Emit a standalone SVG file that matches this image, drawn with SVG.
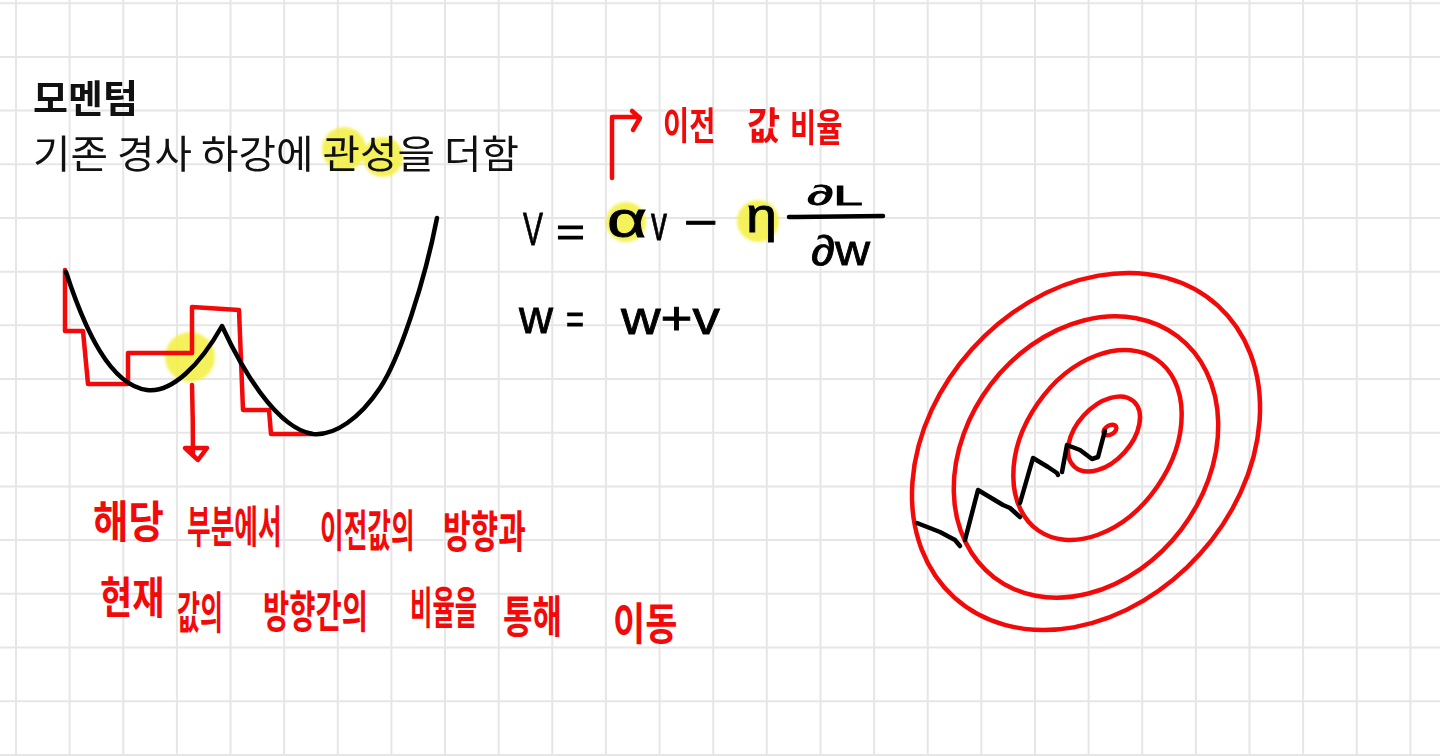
<svg xmlns="http://www.w3.org/2000/svg" width="1440" height="756" viewBox="0 0 1440 756">
<defs>
<style>
.grid{stroke:#e6e6e6;stroke-width:2;fill:none}
.hl{fill:#f3ee3c;opacity:0.85}
.ink{fill:none;stroke:#000;stroke-width:4.5;stroke-linecap:round;stroke-linejoin:round}
.red{fill:none;stroke:#f20a0a;stroke-width:4.5;stroke-linecap:round;stroke-linejoin:round}
.title{font-family:"Noto Sans CJK KR","Noto Sans",sans-serif;font-weight:700;font-size:38px;fill:#111}
.sub{font-family:"Noto Sans CJK KR","Noto Sans",sans-serif;font-weight:400;font-size:39px;fill:#111}
.hand{font-family:"Noto Sans CJK KR","Noto Sans",sans-serif;font-weight:700;font-size:44px;fill:#f20a0a}
.hand2{font-family:"Noto Sans CJK KR","Noto Sans",sans-serif;font-weight:700;font-size:38px;fill:#f20a0a}
.math{font-family:"Liberation Sans","DejaVu Sans",sans-serif;fill:#000;stroke:#000;stroke-width:0.8}
</style>
<filter id="soft" x="-20%" y="-20%" width="140%" height="140%"><feGaussianBlur stdDeviation="1.5"/></filter>
</defs>
<rect width="1440" height="756" fill="#fff"/>
<g id="grid">
<path class="grid" d="M16,0V756M69.6,0V756M123.3,0V756M176.9,0V756M230.5,0V756M284.2,0V756M337.8,0V756M391.4,0V756M445,0V756M498.7,0V756M552.3,0V756M605.9,0V756M659.6,0V756M713.2,0V756M766.8,0V756M820.5,0V756M874.1,0V756M927.7,0V756M981.3,0V756M1035,0V756M1088.6,0V756M1142.2,0V756M1195.9,0V756M1249.5,0V756M1303.1,0V756M1356.8,0V756M1410.4,0V756M0,3.2H1440M0,56.9H1440M0,110.6H1440M0,164.3H1440M0,218H1440M0,271.7H1440M0,325.3H1440M0,379H1440M0,432.7H1440M0,486.4H1440M0,540.1H1440M0,593.8H1440M0,647.5H1440M0,701.2H1440M0,754.9H1440"/>
</g>
<g id="highlights" filter="url(#soft)">
<circle class="hl" cx="344" cy="149" r="22"/>
<circle class="hl" cx="383" cy="157" r="20"/>
<circle class="hl" cx="626" cy="222" r="20"/>
<circle class="hl" cx="758" cy="221" r="21"/>
<circle class="hl" cx="190" cy="357" r="25"/>
</g>
<g id="heading">
<text class="title" x="33" y="112">모멘텀</text>
<text class="sub" x="33" y="168" textLength="486" lengthAdjust="spacingAndGlyphs">기존 경사 하강에 관성을 더함</text>
</g>
<g id="formula">
<text class="math" x="523" y="245" font-size="46" textLength="20" lengthAdjust="spacingAndGlyphs">V</text>
<text class="math" x="556" y="246" font-size="40" textLength="29" lengthAdjust="spacingAndGlyphs">=</text>
<text class="math" x="607" y="237" font-size="50" textLength="40" lengthAdjust="spacingAndGlyphs">α</text>
<text class="math" x="651" y="240" font-size="48" textLength="16" lengthAdjust="spacingAndGlyphs">v</text>
<text class="math" x="684" y="238" font-size="46" textLength="34" lengthAdjust="spacingAndGlyphs">−</text>
<text class="math" x="746" y="232" font-size="48" textLength="31" lengthAdjust="spacingAndGlyphs">η</text>
<path class="ink" d="M789,217L883,216"/>
<text class="math" x="807" y="205" font-size="28" textLength="56" lengthAdjust="spacingAndGlyphs">∂L</text>
<text class="math" x="811" y="265" font-size="42" textLength="59" lengthAdjust="spacingAndGlyphs">∂w</text>
<text class="math" x="519" y="333" font-size="46" textLength="34" lengthAdjust="spacingAndGlyphs">w</text>
<text class="math" x="566" y="333" font-size="40" textLength="18" lengthAdjust="spacingAndGlyphs">=</text>
<text class="math" x="621" y="334" font-size="46" textLength="99" lengthAdjust="spacingAndGlyphs">w+v</text>
</g>
<g id="note-top">
<path class="red" d="M612,178L612,117L637,117M632,111L640,118L633,130"/>
<text class="hand2" transform="translate(663,139) scale(0.75,1)">이전</text>
<text class="hand2" transform="translate(747,139) scale(0.947,1)">값</text>
<text class="hand2" transform="translate(790,141) scale(0.75,1)">비율</text>
</g>
<g id="curve-plot">
<path class="red" d="M65,270L65,331L83,331L88,384L128,384L128,353L192,353L192,307L239,310L243,410L269,410L271,434L312,434"/>
<path class="ink" d="M66,272C85,330 110,385 147,390C172,393 200,365 222,326C240,365 275,428 313,434C335,436 360,418 380,388C400,358 425,280 437,218"/>
<path class="red" d="M192,385Q193,420 193,455"/>
<path class="red" d="M185,448L207,448L198,460Z"/>
</g>
<g id="note-bottom">
<text class="hand" transform="translate(93,538) scale(0.875,1)">해당</text>
<text class="hand" transform="translate(187,543) scale(0.585,1)">부분에서</text>
<text class="hand" transform="translate(320,547) scale(0.585,1)">이전값의</text>
<text class="hand" transform="translate(443,548) scale(0.682,1)">방향과</text>
<text class="hand" transform="translate(100,614) scale(0.795,1)">현재</text>
<text class="hand" transform="translate(177,629) scale(0.568,1)">값의</text>
<text class="hand" transform="translate(263,628) scale(0.648,1)">방향간의</text>
<text class="hand" transform="translate(410,624) scale(0.553,1)">비율을</text>
<text class="hand" transform="translate(503,633) scale(0.727,1)">통해</text>
<text class="hand" transform="translate(613,640) scale(0.795,1)">이동</text>
</g>
<g id="contour">
<ellipse class="red" cx="1086" cy="451.5" rx="196.6" ry="153.3" transform="rotate(-48 1086 451.5)"/>
<ellipse class="red" cx="1086" cy="457" rx="151.5" ry="119.7" transform="rotate(-52.7 1086 457)"/>
<ellipse class="red" cx="1097.5" cy="445" rx="104" ry="72.8" transform="rotate(-55.3 1097.5 445)"/>
<ellipse class="red" cx="1104" cy="434" rx="44.1" ry="27.5" transform="rotate(-47.7 1104 434)"/>
<ellipse class="red" cx="1110" cy="430" rx="7" ry="4.5" transform="rotate(-30 1110 430)"/>
<path class="ink" d="M917,523L940,532L955,540L960,546M965,540L978,490L1003,505L1010,508L1020,517M1020,503L1033,458L1048,467L1057,473L1058,475M1062,472L1067,445L1080,450L1092,459L1098,457L1103,438L1105,431"/>
</g>
</svg>
